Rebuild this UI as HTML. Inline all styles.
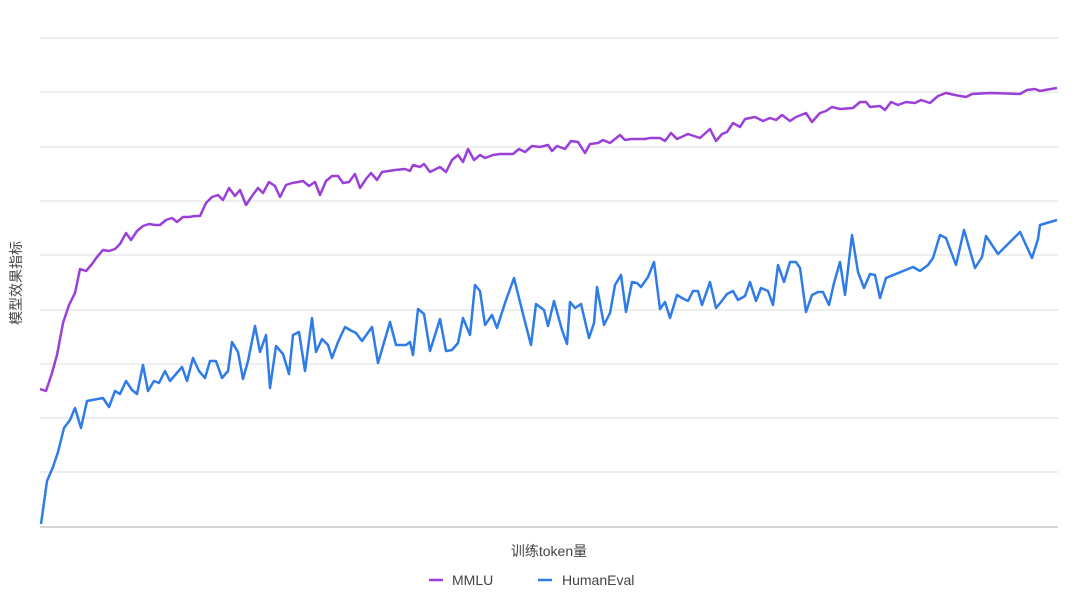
<!DOCTYPE html>
<html><head><meta charset="utf-8"><style>
html,body{margin:0;padding:0;background:#fff;width:1080px;height:596px;overflow:hidden}
</style></head><body>
<svg width="1080" height="596" xmlns="http://www.w3.org/2000/svg" font-family="Liberation Sans, Noto Sans CJK SC, sans-serif">
<g stroke="#dcdcdc" stroke-width="1">
<line x1="40" y1="38" x2="1058" y2="38"/><line x1="40" y1="92" x2="1058" y2="92"/>
<line x1="40" y1="147" x2="1058" y2="147"/><line x1="40" y1="201" x2="1058" y2="201"/>
<line x1="40" y1="255" x2="1058" y2="255"/><line x1="40" y1="310" x2="1058" y2="310"/>
<line x1="40" y1="364" x2="1058" y2="364"/><line x1="40" y1="418" x2="1058" y2="418"/>
<line x1="40" y1="472" x2="1058" y2="472"/>
</g>
<line x1="40" y1="527" x2="1058" y2="527" stroke="#c8c8c8" stroke-width="1.5"/>
<polyline fill="none" stroke="#9b3fd9" stroke-width="2.5" stroke-linejoin="round" points="40,389 46,391 52,373 57,355 63,323 69,305 75,293 80,269 86,271 92,264 97,257 103,250 109,251 115,249 120,244 126,233 131,240 137,231 143,226 149,224 155,225 160,225 166,220 172,218 177,222 183,217 189,217 195,216 200,216 206,203 212,197 218,195 223,200 229,188 235,196 240,190 246,205 252,196 258,188 263,193 269,182 275,186 280,197 286,185 292,183 298,182 303,181 309,186 315,182 320,195 326,181 332,176 338,176 343,183 349,182 355,174 360,188 366,179 371,173 377,180 382,172 395,170 405,169 410,171 413,165 420,167 424,164 430,172 440,167 446,172 452,160 458,155 463,162 468,149 474,160 480,155 485,158 493,155 500,154 513,154 519,149 525,152 532,146 540,147 548,145 552,151 557,146 565,149 571,141 578,142 585,153 590,144 598,143 603,140 610,143 620,135 625,140 631,139 645,139 650,138 660,138 665,141 671,133 677,139 688,134 700,138 710,129 716,141 722,134 727,132 733,123 740,127 745,119 755,117 763,121 770,118 776,120 782,115 790,121 796,117 806,113 812,122 820,113 826,111 832,107 840,109 853,108 860,102 866,102 870,107 880,106 885,110 891,102 898,105 906,102 915,103 921,100 930,103 938,96 946,93 955,95 966,97 972,94 990,93 1020,94 1027,90 1035,89 1040,91 1045,90 1057,88"/>
<polyline fill="none" stroke="#2f7be8" stroke-width="2.5" stroke-linejoin="round" points="41,524 47,481 53,467 58,452 64,428 70,420 75,408 81,428 87,401 103,398 109,407 115,391 120,394 126,381 132,390 137,394 143,365 148,391 154,381 159,383 165,371 170,381 176,374 182,367 187,381 193,358 199,371 205,378 210,361 216,361 222,378 228,371 232,342 238,352 243,379 248,361 255,326 260,352 266,335 270,388 276,346 283,354 289,374 293,335 299,332 305,371 312,318 316,352 322,339 328,345 332,358 338,342 345,327 350,330 356,333 362,341 372,327 378,363 390,322 396,345 406,345 410,342 413,355 418,309 424,314 430,351 440,319 446,351 452,350 458,343 463,318 470,335 475,285 480,291 485,325 492,315 497,328 505,303 514,278 524,318 531,345 536,304 544,310 548,326 554,301 562,330 567,344 570,302 575,308 581,304 589,338 594,323 597,287 604,325 610,313 615,285 621,275 626,312 632,282 637,283 641,287 648,277 654,262 660,309 665,302 670,318 677,295 682,298 688,301 693,291 698,291 702,305 710,282 716,308 721,302 727,294 733,291 738,300 745,296 750,282 756,301 761,288 768,291 773,305 778,265 784,282 790,262 796,262 800,268 806,312 812,295 818,292 823,292 829,305 834,283 840,262 845,295 852,235 858,272 864,288 870,274 875,275 880,298 886,278 913,267 920,271 928,265 933,258 940,235 946,238 956,265 964,230 975,268 982,257 986,236 998,254 1020,232 1032,258 1038,239 1040,225 1057,220"/>
<text transform="translate(21,283) rotate(-90)" text-anchor="middle" font-size="14" fill="#444">模型效果指标</text>
<text x="549" y="556" text-anchor="middle" font-size="14" fill="#444">训练token量</text>
<line x1="429" y1="580" x2="443" y2="580" stroke="#9b3fd9" stroke-width="2.5"/>
<text x="452" y="585" font-size="14" fill="#444">MMLU</text>
<line x1="538" y1="580" x2="552" y2="580" stroke="#2f7be8" stroke-width="2.5"/>
<text x="562" y="585" font-size="14" fill="#444">HumanEval</text>
</svg>
</body></html>
